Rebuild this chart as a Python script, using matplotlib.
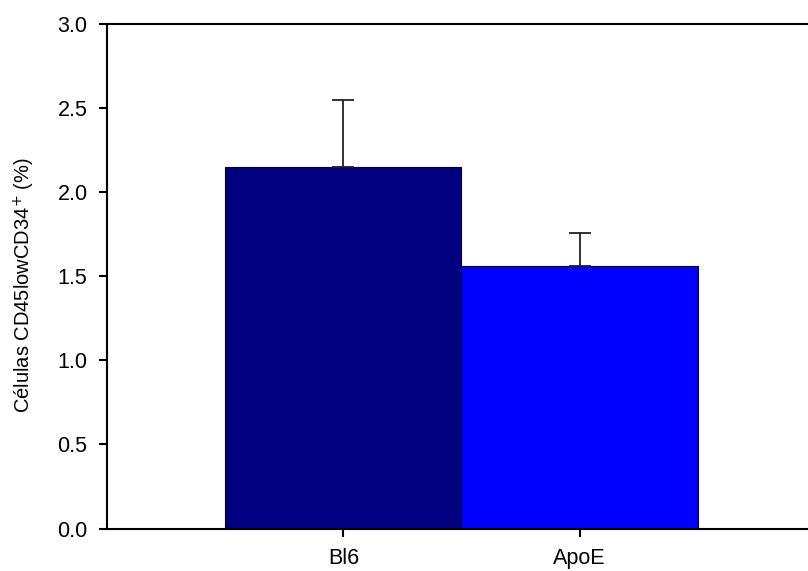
import numpy as np
from matplotlib import pyplot as plt

plt.rcParams['font.family'] = ['Liberation Sans', 'DejaVu Sans']

groups = ["Bl6", "ApoE"]
values = [2.15, 1.56]
errors = [0.40, 0.20]
colors = ["#000080", "#0000FF"]

fig = plt.figure(figsize=(8.08, 5.71), dpi=100)
ax = fig.add_axes([0.1324, 0.0744, 0.8775, 0.883])

x = np.arange(len(groups))
ax.bar(x, values, width=1.0, color=colors, edgecolor="black", linewidth=0.8, zorder=2)
# only the upper half of the error bar is drawn
ax.errorbar(x, values, yerr=[np.zeros(len(errors)), errors], fmt="none",
            ecolor="#222222", elinewidth=1.3, capsize=8, capthick=1.3, zorder=3)

ax.set_xlim(-1, 2)
ax.set_ylim(0, 3.0)
ax.set_yticks(np.arange(0, 3.01, 0.5))
ax.set_yticklabels(["%.1f" % v for v in np.arange(0, 3.01, 0.5)])
ax.set_xticks(x)
ax.set_xticklabels(groups)

ax.spines["right"].set_visible(False)
for s in ["left", "bottom", "top"]:
    ax.spines[s].set_linewidth(1.5)

ax.tick_params(axis="y", direction="out", length=6, width=1.5, labelsize=15.5, pad=8)
ax.tick_params(axis="x", direction="out", length=6, width=1.5, labelsize=15.5, pad=8)

ax.set_ylabel("Células CD45lowCD34$^{+}$ (%)", fontsize=14.5)
ax.yaxis.set_label_coords(-0.099, 0.483)

fig.savefig("out.png", dpi=100)
